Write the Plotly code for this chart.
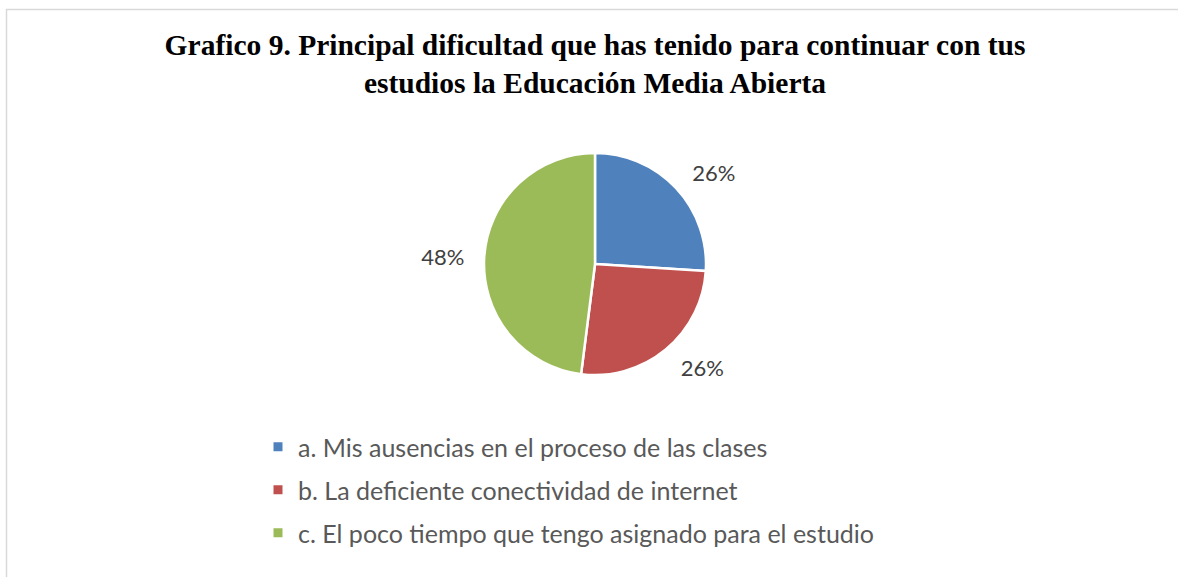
import plotly.graph_objects as go

categories = [
    "a. Mis ausencias en el proceso de las clases",
    "b. La deficiente conectividad de internet",
    "c. El poco tiempo que tengo asignado para el estudio",
]
values = [26, 26, 48]
colors = ["#4F81BD", "#C0504D", "#9BBB59"]
title_lines = [
    "Grafico 9. Principal dificultad que has tenido para continuar con tus",
    "estudios la Educación Media Abierta",
]

W, H = 1178, 577
cx, cy, r = 595, 264, 111
r_lab = r + 13


def dom(rad):
    return dict(x=[(cx - rad) / W, (cx + rad) / W], y=[1 - (cy + rad) / H, 1 - (cy - rad) / H])


fig = go.Figure()
# visible pie
fig.add_trace(go.Pie(
    labels=categories,
    values=values,
    sort=False,
    direction="clockwise",
    rotation=0,
    marker=dict(colors=colors, line=dict(color="white", width=2.5)),
    textinfo="none",
    showlegend=False,
    hoverinfo="label+percent",
    domain=dom(r),
))
# transparent pie carrying the outside percentage labels
fig.add_trace(go.Pie(
    labels=categories,
    values=values,
    sort=False,
    direction="clockwise",
    rotation=0,
    marker=dict(colors=["rgba(0,0,0,0)"] * len(values), line=dict(width=0)),
    texttemplate="%{percent:.0%}",
    textposition="outside",
    outsidetextfont=dict(family="Lato", size=22, color="#404040"),
    showlegend=False,
    hoverinfo="skip",
    domain=dom(r_lab),
))

for i, (cat, col) in enumerate(zip(categories, colors)):
    fig.add_trace(go.Scatter(
        x=[None], y=[None], mode="markers", name=cat,
        marker=dict(symbol="square", size=9, color=col),
        legendgroup=f"g{i}", showlegend=True,
    ))

fig.update_layout(
    width=W, height=H,
    margin=dict(l=0, r=0, t=0, b=0),
    paper_bgcolor="white", plot_bgcolor="white",
    xaxis=dict(visible=False), yaxis=dict(visible=False),
    title=dict(
        text="<b>" + "<br>".join(title_lines) + "</b>",
        x=595 / W, xanchor="center", y=1 - 55 / H, yanchor="top",
        font=dict(family="Liberation Serif", size=29.5, color="black"),
    ),
    legend=dict(
        x=258 / W, xanchor="left", y=1 - 424 / H, yanchor="top",
        font=dict(family="Lato", size=25, color="#595959"),
        tracegroupgap=7.5, itemwidth=30, bgcolor="rgba(0,0,0,0)",
        traceorder="grouped",
    ),
    shapes=[dict(type="rect", xref="paper", yref="paper",
                 x0=6.5 / W, x1=1.02, y0=-0.02, y1=1 - 9.5 / H,
                 line=dict(color="#D9D9D9", width=1.5))],
)

fig.write_html("out.html", config={"displayModeBar": False},
               post_script="document.body.style.margin='0px';")
